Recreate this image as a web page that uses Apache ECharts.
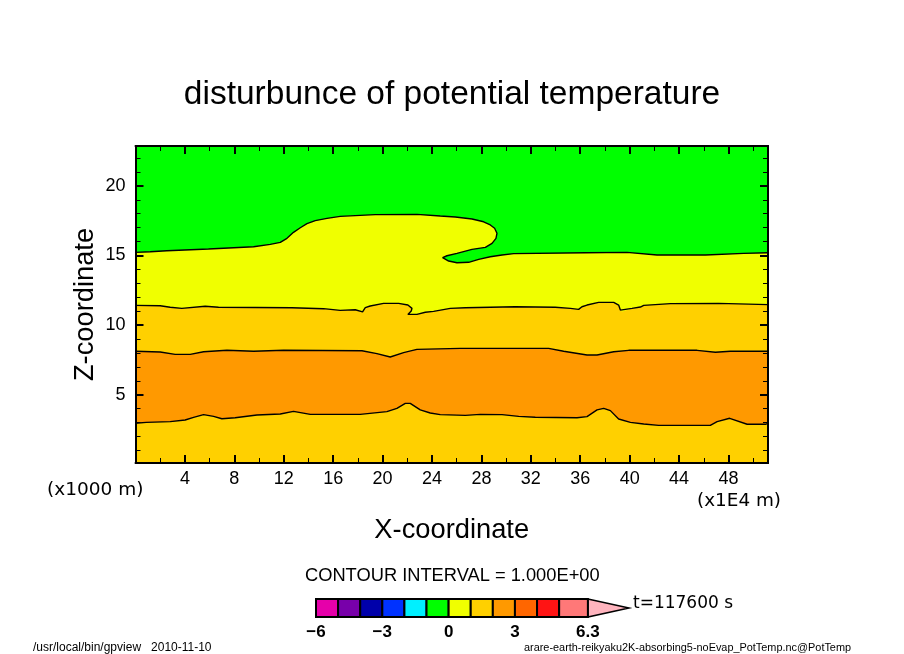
<!DOCTYPE html>
<html><head><meta charset="utf-8">
<style>html,body{margin:0;padding:0;background:#fff}#c{width:904px;height:654px}</style>
<script src="https://cdn.jsdelivr.net/npm/echarts@6/dist/echarts.min.js"></script>
</head><body><div id="c"></div>
<script>
const titleText = 'disturbunce of potential temperature';
const xRange = [0, 51.2];
const zRange = [0.1, 22.86];
const zMajor = [5, 10, 15, 20];
const zMinor = [1,2,3,4,6,7,8,9,11,12,13,14,16,17,18,19,21,22];

// contour level 0.0 -> +1.0 (folded, so x is not monotonic)
const contourYellow = [[0,15.22],[1.19,15.27],[2.54,15.34],[5.91,15.46],[9.56,15.63],[10.91,15.80],[11.72,15.94],[12.26,16.23],[12.79,16.66],[13.34,16.99],[13.88,17.28],[14.55,17.50],[15.50,17.66],[16.57,17.81],[18.19,17.88],[19.41,17.93],[22.78,17.95],[24.67,17.83],[25.89,17.76],[27.24,17.62],[28.18,17.42],[28.72,17.19],[29.07,16.95],[29.26,16.59],[29.18,16.23],[28.86,15.87],[28.32,15.58],[27.24,15.44],[26.02,15.15],[25.21,14.98],[24.86,14.84],[25.35,14.60],[26.02,14.48],[26.97,14.51],[27.78,14.72],[28.72,14.91],[29.67,15.03],[30.61,15.13],[36.41,15.20],[39.79,15.22],[42.22,15.03],[46.13,15.03],[49.23,15.15],[51.2,15.20]];
const contourGold = [[0,11.42],[2.0,11.39],[2.81,11.28],[3.75,11.20],[5.64,11.35],[6.72,11.28],[12.66,11.25],[15.22,11.18],[16.57,11.06],[17.79,11.10],[18.38,10.95],[18.60,11.25],[19.0,11.37],[20.08,11.56],[21.30,11.56],[22.05,11.44],[22.38,11.20],[22.32,11.01],[22.05,10.77],[22.78,10.77],[23.46,10.92],[24.13,10.99],[25.48,11.20],[26.70,11.25],[30.74,11.32],[33.98,11.28],[35.2,11.20],[35.87,11.13],[36.14,11.32],[36.55,11.44],[37.49,11.63],[38.71,11.63],[39.11,11.44],[39.25,11.08],[39.38,10.96],[40.19,11.20],[40.87,11.30],[41.14,11.42],[43.30,11.54],[47.21,11.56],[51.2,11.47]];
const contourOrange = [[0,8.12],[2.0,8.07],[3.21,7.90],[4.43,7.90],[5.51,8.09],[7.40,8.19],[9.56,8.12],[11.99,8.19],[18.33,8.16],[19.54,7.95],[20.62,7.71],[21.70,8.02],[22.78,8.26],[26.29,8.33],[33.44,8.33],[34.66,8.12],[36.55,7.85],[37.36,7.85],[38.71,8.09],[39.92,8.19],[45.46,8.19],[46.94,8.05],[48.15,8.12],[51.2,8.12]];
const contourLower = [[0,2.95],[0.87,3.02],[2.81,3.07],[4.02,3.19],[4.70,3.38],[5.51,3.57],[6.32,3.45],[6.99,3.28],[8.07,3.35],[9.83,3.55],[11.72,3.62],[12.79,3.81],[14.15,3.59],[18.19,3.59],[20.35,3.79],[21.16,4.02],[21.84,4.38],[22.24,4.38],[23.05,3.91],[23.86,3.69],[24.67,3.57],[26.70,3.52],[27.91,3.59],[29.67,3.57],[31.02,3.45],[32.36,3.38],[35.74,3.35],[36.55,3.43],[37.36,3.91],[37.90,4.02],[38.44,3.86],[39.11,3.26],[40.06,3.02],[41.14,2.90],[42.35,2.80],[46.53,2.80],[47.08,3.07],[48.10,3.31],[49.51,2.88],[50.99,2.88],[51.2,2.95]];

const legendEdges = [-6,-5,-4,-3,-2,-1,0,1,2,3,4,5,6.3];
const legendColors = ['#e600aa','#7800aa','#0000aa','#0032ff','#00f0ff','#00ff00','#f0ff00','#ffd000','#ff9900','#ff6600','#ff1414','#ff7878'];
const legendTipColor = '#ffb4be';
const legendTip = 8.16;
const legendLabels = [-6,-3,0,3,6.3];

const font = '"Liberation Sans", Arial, sans-serif';
const wide = '"DejaVu Sans", sans-serif';
const box = {left:135.5, top:146, width:632.5, height:317};

function band(points, color){
  return {type:'custom', coordinateSystem:'cartesian2d', xAxisIndex:0, yAxisIndex:0, silent:true, clip:true, z:2,
    data:[[xRange[0], zRange[0]]],
    renderItem:(p,api)=>({type:'polygon',
      shape:{points:points.concat([[xRange[1],zRange[0]],[xRange[0],zRange[0]]]).map(q=>api.coord(q))},
      style:{fill:color, stroke:null}})};
}
function contour(points){
  return {type:'line', xAxisIndex:0, yAxisIndex:0, data:points, showSymbol:false, symbol:'none', silent:true, z:3,
    clip:true, lineStyle:{color:'#000', width:1.4}};
}
function xAxisOf(pos, labels){
  return {type:'value', gridIndex:0, position:pos, min:xRange[0], max:xRange[1], interval:4, z:10,
    name: labels ? 'X-coordinate' : '', nameLocation:'middle', nameGap:54,
    nameTextStyle:{color:'#000', fontFamily:font, fontSize:27.3},
    splitLine:{show:false},
    axisLine:{onZero:false, lineStyle:{color:'#000', width:2}},
    axisTick:{inside:true, length:8, lineStyle:{color:'#000', width:2}},
    minorTick:{show:true, splitNumber:2, length:5, lineStyle:{color:'#000', width:1}},
    minorSplitLine:{show:false},
    axisLabel:{show:labels, color:'#000', fontFamily:font, fontSize:18, margin:7, showMinLabel:false, showMaxLabel:false}};
}
function zAxisOf(pos, major, labels){
  const vals = major ? zMajor : zMinor;
  return {type:'value', gridIndex:0, position:pos, min:zRange[0], max:zRange[1], z:10,
    name: labels ? 'Z-coordinate' : '', nameLocation:'middle', nameGap:37, nameMoveOverlap:false,
    nameTextStyle:{color:'#000', fontFamily:font, fontSize:27.3},
    splitLine:{show:false},
    axisLine:{onZero:false, lineStyle:{color:'#000', width:2}},
    axisTick:{inside:true, customValues:vals, length:major?8:5, lineStyle:{color:'#000', width:major?2:1}},
    axisLabel:{show:labels, customValues:vals, color:'#000', fontFamily:font, fontSize:18, margin:10}};
}
function txt(text,x,y,size,family){
  return {type:'text', x:x, y:y, silent:true, z:20,
    style:{text:text, fill:'#000', font:size+'px '+(family||font), textAlign:'left', textVerticalAlign:'middle'}};
}
const legendRects = legendColors.map((c,i)=>[legendEdges[i],legendEdges[i+1],c]);

const option = {
  animation:false, backgroundColor:'#fff',
  title:{text:titleText, left:'center', top:73,
    textStyle:{color:'#000', fontFamily:font, fontWeight:'normal', fontSize:33.5}},
  grid:[box, {left:316, top:599, width:313, height:18}],
  xAxis:[xAxisOf('bottom',true), xAxisOf('top',false),
    {type:'value', gridIndex:1, min:legendEdges[0], max:legendTip, position:'bottom',
     axisLine:{show:false}, axisTick:{show:false}, splitLine:{show:false},
     axisLabel:{customValues:legendLabels, color:'#000', fontFamily:font, fontWeight:'bold', fontSize:17, margin:7,
       formatter:v=>String(v).replace('-','\u2212')}}],
  yAxis:[zAxisOf('left',true,true), zAxisOf('left',false,false), zAxisOf('right',true,false), zAxisOf('right',false,false),
    {type:'value', gridIndex:1, min:0, max:1, show:false}],
  series:[
    band([[xRange[0],zRange[1]],[xRange[1],zRange[1]]],'#00ff00'),
    band(contourYellow,'#f0ff00'),
    band(contourGold,'#ffd000'),
    band(contourOrange,'#ff9900'),
    band(contourLower,'#ffd000'),
    contour(contourYellow), contour(contourGold), contour(contourOrange), contour(contourLower),
    {type:'custom', coordinateSystem:'cartesian2d', xAxisIndex:2, yAxisIndex:4, silent:true, clip:false, z:5,
     data:legendRects, dimensions:['from','to'], encode:{x:[0,1]},
     renderItem:(p,api)=>{
       const a=api.coord([api.value(0),1]), b=api.coord([api.value(1),0]);
       return {type:'rect', shape:{x:a[0],y:a[1],width:b[0]-a[0],height:b[1]-a[1]},
         style:{fill:legendRects[p.dataIndex][2], stroke:'#000', lineWidth:2}};
     }},
    {type:'custom', coordinateSystem:'cartesian2d', xAxisIndex:2, yAxisIndex:4, silent:true, clip:false, z:4,
     data:[[legendEdges[12],0]],
     renderItem:(p,api)=>({type:'polygon',
       shape:{points:[[legendEdges[12],1],[legendTip,0.5],[legendEdges[12],0]].map(q=>api.coord(q))},
       style:{fill:legendTipColor, stroke:'#000', lineWidth:1.5}})}
  ],
  graphic:[
    txt('(x1000 m)',47,490,18.5,wide),
    txt('(x1E4 m)',697,501,18.4,wide),
    txt('CONTOUR INTERVAL = 1.000E+00',305,576,18.3),
    txt('t=117600 s',633,604,17,wide),
    txt('/usr/local/bin/gpview   2010-11-10',33,648,12),
    txt('arare-earth-reikyaku2K-absorbing5-noEvap_PotTemp.nc@PotTemp',524,648,10.9)
  ]
};
const chart = echarts.init(document.getElementById('c'), null, {renderer:'canvas', width:904, height:654});
chart.setOption(option);
</script></body></html>
